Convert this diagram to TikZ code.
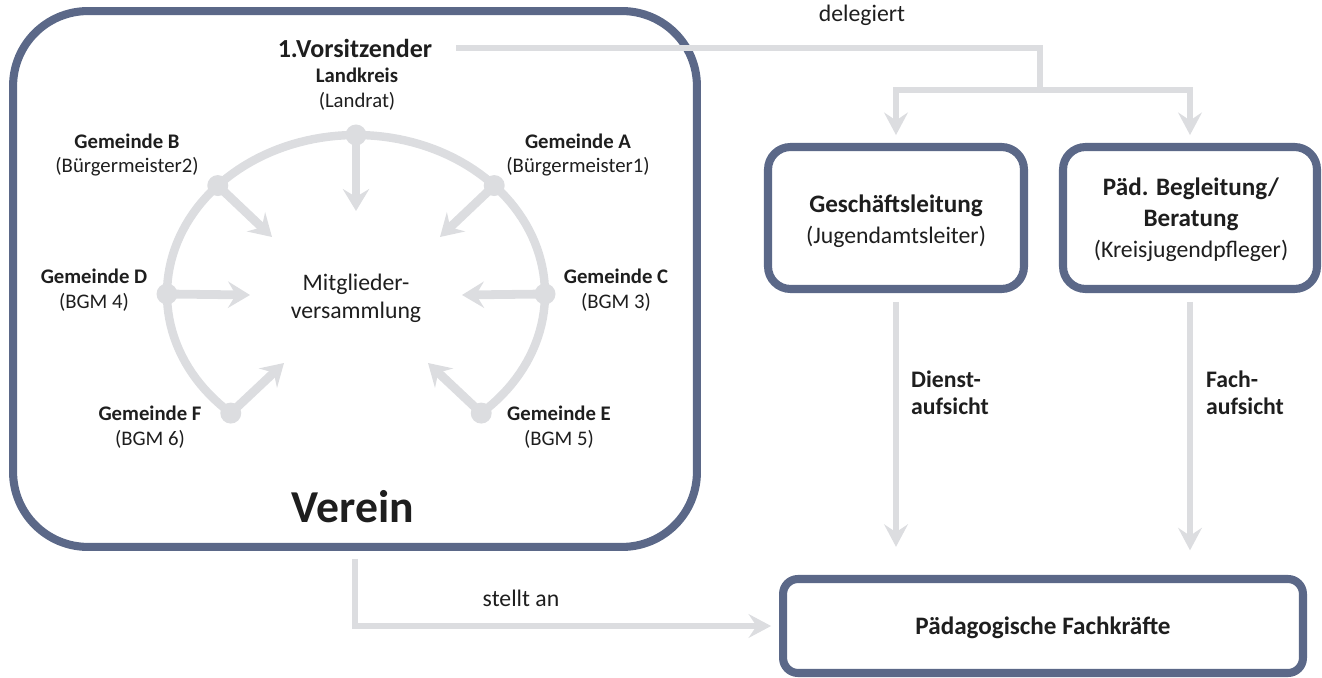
\documentclass[tikz,border=0pt]{standalone}
\usepackage{fontspec}
\setmainfont{Carlito}
\usetikzlibrary{arrows.meta}
\definecolor{slate}{HTML}{5B6888}
\definecolor{lgray}{HTML}{DCDDE0}
\definecolor{txt}{HTML}{1E1E1E}
\begin{document}
\begin{tikzpicture}[x=0.02cm,y=-0.02cm,
  bigbox/.style={draw=slate, line width=4.6pt, rounded corners=1.5cm, inner sep=0pt},
  box/.style={draw=slate, line width=4.6pt, rounded corners=0.45cm, inner sep=0pt, fill=white},
  ring/.style={draw=lgray, line width=4.8pt},
  inarrow/.style={draw=lgray, line width=5pt, -{Stealth[length=12.5pt,width=15pt,inset=4.5pt]}},
  conn/.style={draw=lgray, line width=3.8pt},
  connarrow/.style={conn, -{Stealth[length=12.8pt,width=13.5pt,inset=4.5pt]}},
  dot/.style={circle, fill=lgray, inner sep=0pt, minimum size=0.42cm},
  small/.style={font=\fontsize{11.8}{14.2}\selectfont, align=center, text=txt},
  mid/.style={font=\fontsize{13.5}{15}\selectfont, align=center, text=txt},
  midb/.style={font=\fontsize{14.3}{17.6}\selectfont, align=center, text=txt},
  lbl/.style={font=\fontsize{13.5}{15.3}\selectfont\bfseries, align=left, text=txt, anchor=west}
]
\useasboundingbox (0,0) rectangle (1322,678);

% Verein container
\node[bigbox, minimum width=13.68cm, minimum height=10.72cm] (verein) at (355,279) {};

% ring
\draw[ring] plot[domain=-48.5:228.5, samples=120] ({356+189*cos(\x)},{294-159*sin(\x)});

% dots
\node[dot] (dL) at ({356+189*cos(90)},{294-159*sin(90)}) {};
\node[dot] (dA) at ({356+189*cos(43)},{294-159*sin(43)}) {};
\node[dot] (dB) at ({356+189*cos(137)},{294-159*sin(137)}) {};
\node[dot] (dC) at ({356+189*cos(0)},{294-159*sin(0)}) {};
\node[dot] (dD) at ({356+189*cos(180)},{294-159*sin(180)}) {};
\node[dot] (dE) at ({356+189*cos(-48.5)},{294-159*sin(-48.5)}) {};
\node[dot] (dF) at ({356+189*cos(228.5)},{294-159*sin(228.5)}) {};

% arrow tips
\coordinate (tL) at (356,211);
\coordinate (tA) at (440,237);
\coordinate (tB) at (272,237);
\coordinate (tC) at (462,295);
\coordinate (tD) at (250,295);
\coordinate (tE) at (428,363);
\coordinate (tF) at (284,363);

\draw[inarrow] (dL.center) -- (tL);
\draw[inarrow] (dA.center) -- (tA);
\draw[inarrow] (dB.center) -- (tB);
\draw[inarrow] (dC.center) -- (tC);
\draw[inarrow] (dD.center) -- (tD);
\draw[inarrow] (dE.center) -- (tE);
\draw[inarrow] (dF.center) -- (tF);

% labels in the ring
\node[font=\fontsize{14.8}{17.6}\selectfont\bfseries, text=txt] (vors) at (355,48) {1.Vorsitzender};
\node[small] (lk) at (357,89) {\textbf{Landkreis}\\(Landrat)};
\node[small] (gA) at (578,155) {\textbf{Gemeinde A}\\(Bürgermeister1)};
\node[small] (gB) at (127,155) {\textbf{Gemeinde B}\\(Bürgermeister2)};
\node[small] (gC) at (616,290) {\textbf{Gemeinde C}\\(BGM 3)};
\node[small] (gD) at (94,290) {\textbf{Gemeinde D}\\(BGM 4)};
\node[small] (gE) at (559,427) {\textbf{Gemeinde E}\\(BGM 5)};
\node[small] (gF) at (150,427) {\textbf{Gemeinde F}\\(BGM 6)};
\node[mid, font=\fontsize{13.5}{16}\selectfont] (mv) at (356,298) {Mitglieder-\\versammlung};
\node[font=\fontsize{26}{30}\selectfont\bfseries, text=txt] (vname) at (353,507) {Verein};

% right boxes
\node[box, minimum width=5.12cm, minimum height=2.84cm] (gl) at (896,218) {};
\node[midb] (gltext) at (896,221) {\textbf{Geschäftsleitung}\\\fontsize{13.5}{15}\selectfont(Jugendamtsleiter)};
\node[box, minimum width=5.08cm, minimum height=2.84cm] (pb) at (1190,218) {};
\node[midb] (pbtext) at (1191,220) {\textbf{Päd. Begleitung/}\\\textbf{Beratung}\\\fontsize{13.5}{15}\selectfont(Kreisjugendpfleger)};
\node[box, rounded corners=0.3cm, minimum width=10.4cm, minimum height=1.88cm] (pfk) at (1043,626) {};
\node[midb] (pfktext) at (1043,628) {\textbf{Pädagogische Fachkräfte}};

% delegiert
\coordinate (j) at (1040,90);
\draw[conn, shorten <=10pt] (vors.east) -| (j);
\draw[connarrow, shorten >=4.5pt] (j) -| (gl.north);
\draw[connarrow, shorten >=4.5pt] (j) -| (pb.north);
\node[mid] (deleg) at (862,15) {delegiert};

% Aufsicht
\draw[connarrow, shorten <=5pt, shorten >=16pt] (gl.south) -- (gl.south |- pfk.north);
\draw[connarrow, shorten <=5pt, shorten >=14pt] (pb.south) -- (pb.south |- pfk.north);
\node[lbl] (dienst) at (905,393) {Dienst-\\aufsicht};
\node[lbl] (fach) at (1200,393) {Fach-\\aufsicht};

% stellt an
\draw[connarrow, shorten <=4.5pt, shorten >=4.5pt] (verein.south) |- (pfk.west);
\node[mid] (stellt) at (521,598) {stellt an};
\end{tikzpicture}
\end{document}
